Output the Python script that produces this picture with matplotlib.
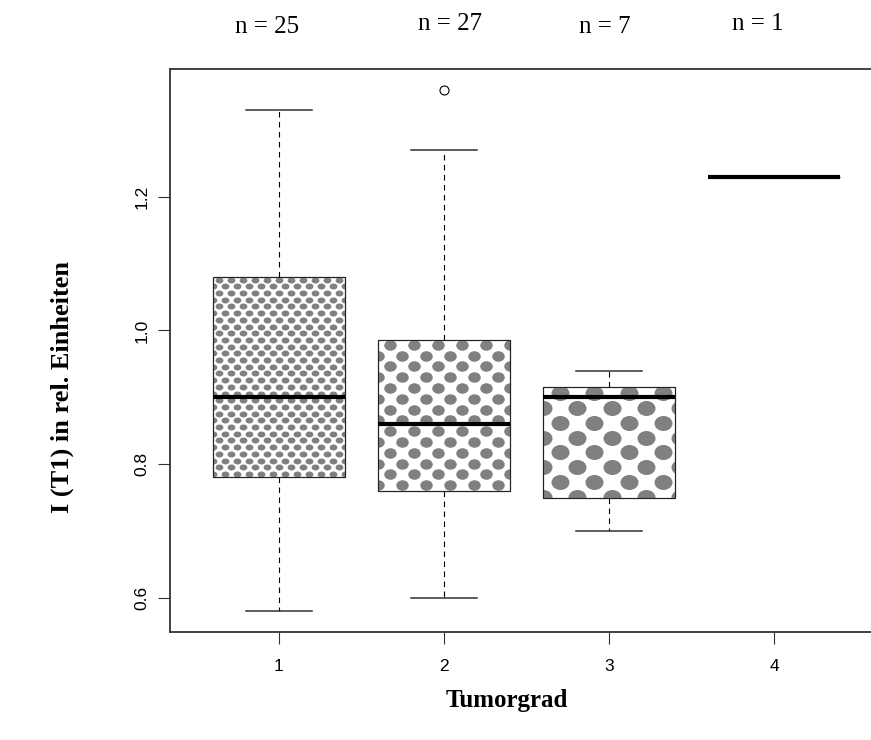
import numpy as np
import matplotlib
matplotlib.use('Agg')
import matplotlib.pyplot as plt
from matplotlib.path import Path
from matplotlib.patches import PathPatch
from matplotlib.transforms import Affine2D, blended_transform_factory

# box statistics per tumour grade
groups = [1, 2, 3, 4]
medians = [0.90, 0.86, 0.90, 1.23]
q1 = [0.78, 0.76, 0.75, 1.23]
q3 = [1.08, 0.985, 0.915, 1.23]
whis_lo = [0.58, 0.60, 0.70, 1.23]
whis_hi = [1.33, 1.27, 0.94, 1.23]
outliers = [[], [1.36], [], []]
n_counts = [25, 27, 7, 1]
y_ticks = [0.6, 0.8, 1.0, 1.2]

# dot fill per box, in pixels: column step, row step, dot width, dot height
patterns = [(12.0, 6.7, 7.8, 6.0), (24.0, 10.8, 12.5, 10.5),
            (34.3, 14.8, 18.0, 15.0), None]
dot_grey = '#808080'

W, H = 871, 740
fig = plt.figure(figsize=(W / 100, H / 100), dpi=100)
ax = fig.add_axes([170 / W, 108 / H, 713 / W, 563 / H])

stats = [dict(med=m, q1=a, q3=b, whislo=lo, whishi=hi, fliers=f)
         for m, a, b, lo, hi, f in zip(medians, q1, q3, whis_lo, whis_hi, outliers)]
bp = ax.bxp(stats, positions=groups, widths=0.8, capwidths=0.4, patch_artist=True,
            boxprops=dict(facecolor='white', edgecolor='#222222', linewidth=0.8),
            whiskerprops=dict(color='black', linewidth=0.8, linestyle=(0, (5, 4))),
            capprops=dict(color='#333333', linewidth=1.1),
            medianprops=dict(color='black', linewidth=3, solid_capstyle='butt'),
            flierprops=dict(marker='o', markerfacecolor='none', markeredgecolor='black',
                            markersize=6.5, markeredgewidth=0.8))

ax.set_xlim(0.34, 4.66)
ax.set_ylim(0.5488, 1.3912)

# dotted fill, drawn in pixel space and clipped to each box
for box, pat in zip(bp['boxes'], patterns):
    if pat is None:
        continue
    dx, dy, dw, dh = pat
    (x0, y0), (x1, y1) = ax.transData.transform(box.get_path().get_extents().get_points())
    pts = []
    row = 0
    y = y1 - dy * 0.4
    while y > y0 - dy:
        x = x0 + (dx / 2 if row % 2 == 0 else 0) - dx
        while x < x1 + dx:
            pts.append((x, y))
            x += dx
        y -= dy
        row += 1
    pts = ax.transData.inverted().transform(np.array(pts))
    marker = Path.unit_circle().transformed(Affine2D().scale(1, dh / dw))
    sc = ax.scatter(pts[:, 0], pts[:, 1], s=(dw * 0.72) ** 2, marker=marker,
                    color=dot_grey, linewidths=0, zorder=2.02)
    sc.set_clip_path(box)
    ax.add_patch(PathPatch(box.get_path(), fill=False, edgecolor='#222222',
                           linewidth=0.8, zorder=2.05, transform=box.get_transform()))

for s in ax.spines.values():
    s.set_color('#333333')
    s.set_linewidth(1.3)

ax.set_xticks(groups)
ax.set_xticklabels([str(g) for g in groups])
ax.set_yticks(y_ticks)
ax.set_yticklabels(['%.1f' % v for v in y_ticks])
ax.tick_params(direction='out', length=8.5, width=0.8, color='#333333', labelsize=12.5)
ax.tick_params(axis='x', pad=11)
ax.tick_params(axis='y', pad=6.5)
for lab in ax.get_xticklabels() + ax.get_yticklabels():
    lab.set_fontfamily('Liberation Sans')
for lab in ax.get_yticklabels():
    lab.set_rotation(90)
    lab.set_va('center')

fig.text(507 / W, 1 - 707 / H, 'Tumorgrad', ha='center', va='baseline',
         fontfamily='Liberation Serif', fontweight='bold', fontsize=18)
fig.text(62 / W, 1 - 387 / H, 'I (T1) in rel. Einheiten', ha='center', va='center',
         rotation=90, fontfamily='Liberation Serif', fontweight='bold', fontsize=19)

# sample sizes above the plot
n_label_x = [0.928, 2.037, 2.976, 3.904]
n_label_y = [27, 24, 27, 24]
trans = blended_transform_factory(ax.transData, fig.transFigure)
for xn, yn, n in zip(n_label_x, n_label_y, n_counts):
    ax.text(xn, 1 - yn / H, 'n = %d' % n, transform=trans, ha='center', va='center',
            fontfamily='Liberation Serif', fontsize=18, clip_on=False)

fig.savefig('out.png', dpi=100)
